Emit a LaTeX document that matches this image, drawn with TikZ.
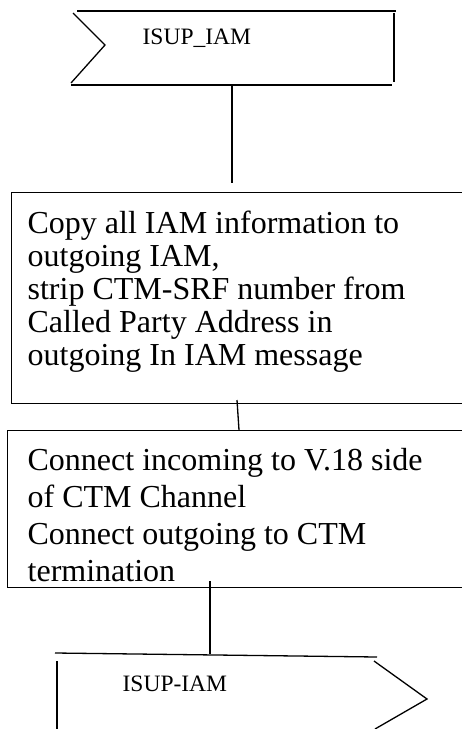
\documentclass[tikz,border=0pt]{standalone}
\usepackage{fontspec}
\setmainfont{Liberation Serif}
\begin{document}
\begin{tikzpicture}[x=1pt,y=-1pt,line width=1.3pt,
  boxtext/.style={anchor=north west,align=left,inner sep=0pt},
  sigtext/.style={anchor=base west,inner sep=0pt,font=\fontsize{23.5}{28}\selectfont},
  taskbox/.style={draw,anchor=north west,inner sep=0pt,minimum width=470pt}]
\useasboundingbox (0,0) rectangle (462,729);
% top input signal
\draw (77,11) -- (396,11);
\draw (394,13) -- (394,82);
\draw (71,85) -- (392,85);
\draw (73,13) -- (105,45) -- (71,83);
\node[sigtext] (sig1) at (142,44) {ISUP\_IAM};
% task boxes
\node[taskbox,minimum height=211pt] (box1) at (11,192) {};
\node[boxtext,font=\fontsize{32}{33}\selectfont] (t1) at (27,210)
  {Copy all IAM information to\\outgoing IAM,\\strip CTM-SRF number from\\Called Party Address in\\outgoing In IAM message};
\node[taskbox,minimum height=157pt] (box2) at (7,430) {};
\node[boxtext,font=\fontsize{32}{37}\selectfont] (t2) at (27,448)
  {Connect incoming to V.18 side\\of CTM Channel\\Connect outgoing to CTM\\termination};
% bottom output signal
\draw (55,653) -- (377,657);
\draw (57,661) -- (57,729);
\draw (374,661) -- (427,699) -- (375,729);
\node[sigtext] (sig2) at (122,691) {ISUP-IAM};
% connectors
\coordinate (c1a) at (232,85);
\coordinate (c1b) at (232,183);
\coordinate (c2a) at (237,400);
\coordinate (c2b) at (239,430);
\coordinate (c3a) at (210,581);
\coordinate (c3b) at (210,654);
\draw (c1a) -- (c1b);
\draw (c2a) -- (c2b);
\draw (c3a) -- (c3b);
\end{tikzpicture}
\end{document}
